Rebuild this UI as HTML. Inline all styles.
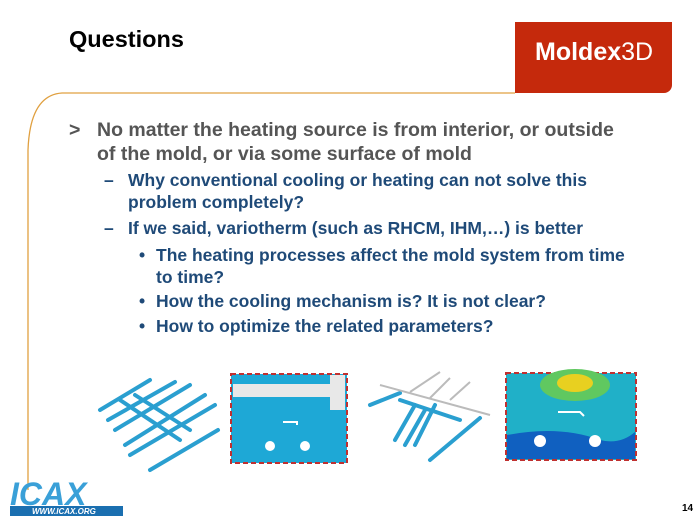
<!DOCTYPE html>
<html><head><meta charset="utf-8"><style>
body{margin:0;width:700px;height:525px;background:#fff;position:relative;overflow:hidden;font-family:"Liberation Sans",Arial,sans-serif;font-weight:bold}
.t{position:absolute;white-space:nowrap}
.m{color:#555;font-size:19.5px}
.s{color:#1f4a78;font-size:17.5px}
</style></head><body>
<div class="t" style="left:69px;top:26px;font-size:23.5px;color:#000">Questions</div>
<div style="position:absolute;left:515px;top:22px;width:157px;height:71px;background:#c5290c;border-bottom-right-radius:8px"></div>
<div class="t" style="left:535px;top:38px;font-size:25px;color:#fff;font-weight:bold">Moldex<span style="font-weight:normal">3D</span></div>
<svg style="position:absolute;left:0;top:0" width="700" height="525">
<path d="M515 93 H62 Q30 95 28 150 V490" fill="none" stroke="#e0a040" stroke-width="1.3"/>
<g stroke="#2a9fd0" stroke-width="4" stroke-linecap="round">
<line x1="100" y1="410" x2="150" y2="380"/><line x1="108" y1="420" x2="175" y2="382"/><line x1="115" y1="430" x2="190" y2="385"/>
<line x1="125" y1="445" x2="205" y2="395"/><line x1="130" y1="455" x2="215" y2="405"/><line x1="150" y1="470" x2="218" y2="430"/>
<line x1="120" y1="400" x2="180" y2="440"/><line x1="135" y1="395" x2="190" y2="430"/></g>
<rect x="231" y="374" width="116" height="89" fill="#1ea8d6" stroke="#c03030" stroke-width="2" stroke-dasharray="5,3"/>
<path d="M233 384 H332 V397 H233 Z" fill="#e8e8e8"/><rect x="330" y="375" width="15" height="35" fill="#e8e8e8"/>
<circle cx="270" cy="446" r="5" fill="#fff"/><circle cx="305" cy="446" r="5" fill="#fff"/>
<path d="M283 422 H297 V425" stroke="#fff" stroke-width="2" fill="none"/>
<g stroke="#2a9fd0" stroke-width="4" stroke-linecap="round">
<line x1="370" y1="405" x2="400" y2="393"/><line x1="395" y1="440" x2="415" y2="405"/><line x1="405" y1="445" x2="425" y2="410"/><line x1="415" y1="445" x2="435" y2="405"/>
<line x1="400" y1="400" x2="460" y2="420"/><line x1="430" y1="460" x2="480" y2="418"/></g>
<g stroke="#bbb" stroke-width="2"><line x1="380" y1="385" x2="490" y2="415"/><line x1="410" y1="392" x2="440" y2="372"/><line x1="430" y1="398" x2="450" y2="378"/><line x1="450" y1="400" x2="470" y2="382"/></g>
<rect x="506" y="373" width="130" height="87" fill="#20b0c8" stroke="#c03030" stroke-width="2" stroke-dasharray="5,3"/>
<ellipse cx="575" cy="385" rx="35" ry="16" fill="#60c860"/><ellipse cx="575" cy="383" rx="18" ry="9" fill="#e8d020"/>
<path d="M507 435 Q560 425 600 440 Q620 445 635 432 V459 H507 Z" fill="#1060c0"/>
<circle cx="540" cy="441" r="6" fill="#fff"/><circle cx="595" cy="441" r="6" fill="#fff"/>
<path d="M558 412 H580 L584 416" stroke="#fff" stroke-width="2" fill="none"/>
<rect x="10" y="506" width="113" height="10" fill="#1a6fb0"/>
<text x="32" y="514" font-size="8" fill="#fff" font-family="Liberation Sans" font-weight="bold" font-style="italic">WWW.ICAX.ORG</text>
<text x="10" y="505" font-size="32" fill="#3aa0d8" font-family="Liberation Sans" font-weight="bold" font-style="italic">ICAX</text>
</svg>
<div class="t m" style="left:69px;top:119px">&gt;</div>
<div class="t m" style="left:97px;top:119px">No matter the heating source is from interior, or outside</div>
<div class="t m" style="left:97px;top:143px">of the mold, or via some surface of mold</div>
<div class="t s" style="left:104px;top:170px">–</div>
<div class="t s" style="left:128px;top:170px">Why conventional cooling or heating can not solve this</div>
<div class="t s" style="left:128px;top:192px">problem completely?</div>
<div class="t s" style="left:104px;top:218px">–</div>
<div class="t s" style="left:128px;top:218px">If we said, variotherm (such as RHCM, IHM,…) is better</div>
<div class="t s" style="left:139px;top:245px">•</div>
<div class="t s" style="left:156px;top:245px">The heating processes affect the mold system from time</div>
<div class="t s" style="left:156px;top:267px">to time?</div>
<div class="t s" style="left:139px;top:291px">•</div>
<div class="t s" style="left:156px;top:291px">How the cooling mechanism is? It is not clear?</div>
<div class="t s" style="left:139px;top:316px">•</div>
<div class="t s" style="left:156px;top:316px">How to optimize the related parameters?</div>
<div class="t" style="left:682px;top:503px;font-size:10px;color:#000">14</div>
</body></html>
